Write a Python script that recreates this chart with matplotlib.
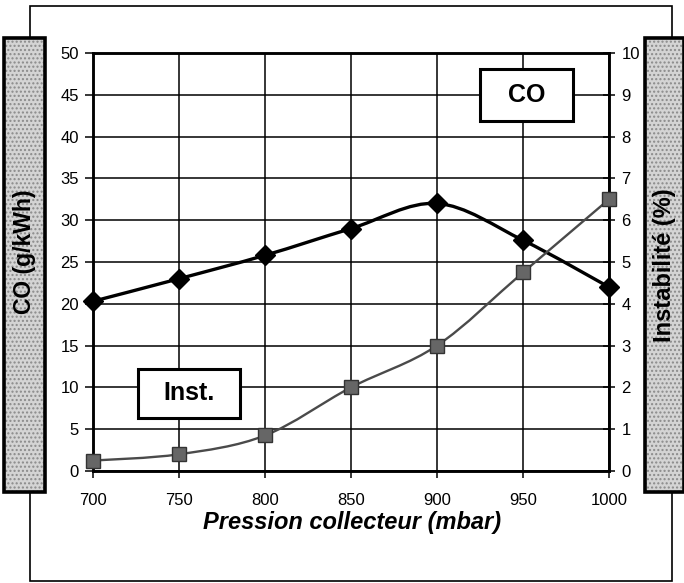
import matplotlib
matplotlib.use("Agg")
import matplotlib.pyplot as plt
from matplotlib.patches import Rectangle, PathPatch
from matplotlib.path import Path
import numpy as np

plt.rcParams['font.family'] = ['Liberation Sans', 'DejaVu Sans']

pression = [700, 750, 800, 850, 900, 950, 1000]
co_values = [20.3, 23.0, 25.8, 29.0, 32.0, 27.6, 22.0]
inst_values = [0.25, 0.4, 0.85, 2.0, 3.0, 4.75, 6.5]
x_ticks = [700, 750, 800, 850, 900, 950, 1000]
y_left_ticks = [0, 5, 10, 15, 20, 25, 30, 35, 40, 45, 50]
y_right_ticks = [0, 1, 2, 3, 4, 5, 6, 7, 8, 9, 10]


def smooth_path(xs, ys):
    pts = np.column_stack([xs, ys]).astype(float)
    n = len(pts)
    verts = [pts[0]]
    codes = [Path.MOVETO]
    for i in range(n - 1):
        p0 = pts[i - 1] if i > 0 else pts[i]
        p1 = pts[i]
        p2 = pts[i + 1]
        p3 = pts[i + 2] if i + 2 < n else pts[i + 1]
        c1 = p1 + (p2 - p0) / 6.0
        c2 = p2 - (p3 - p1) / 6.0
        verts += [c1, c2, p2]
        codes += [Path.CURVE4] * 3
    return Path(verts, codes)


W, H = 684, 583
fig = plt.figure(figsize=(W / 100, H / 100), dpi=100)

# outer frame
fig.add_artist(Rectangle((30 / W, 1 - 581 / H), (672 - 30) / W, (581 - 6) / H,
                         transform=fig.transFigure, fill=False, lw=1.2,
                         edgecolor='black', zorder=0))

# side panels
for (x0, x1) in [(4, 45), (645, 684)]:
    fig.add_artist(Rectangle((x0 / W, 1 - 492 / H), (x1 - x0) / W, (492 - 38) / H,
                             transform=fig.transFigure, facecolor='#d4d4d4',
                             hatch='....', edgecolor='#8a8a8a', lw=0, zorder=1))
    fig.add_artist(Rectangle((x0 / W, 1 - 492 / H), (x1 - x0) / W, (492 - 38) / H,
                             transform=fig.transFigure, fill=False,
                             edgecolor='black', lw=2.6, zorder=2))

fig.text(25 / W, 1 - 252 / H, 'CO (g/kWh)', rotation=90, ha='center', va='center',
         fontsize=16.5, fontweight='bold', zorder=3)
fig.text(664 / W, 1 - 265 / H, 'Instabilité (%)', rotation=90, ha='center', va='center',
         fontsize=17, fontweight='bold', zorder=3)

ax = fig.add_axes([93 / W, 1 - 471 / H, (609 - 93) / W, (471 - 53) / H])
ax2 = ax.twinx()

ax.set_xlim(700, 1000)
ax.set_ylim(0, 50)
ax2.set_ylim(0, 10)
ax.set_xticks(x_ticks)
ax.set_yticks(y_left_ticks)
ax2.set_yticks(y_right_ticks)
ax.grid(True, color='black', lw=1.1)
ax.set_axisbelow(True)

for a in (ax, ax2):
    for s in a.spines.values():
        s.set_linewidth(1.8)
        s.set_color('black')

ax.tick_params(axis='y', direction='out', length=6, width=1.1, labelsize=12, pad=4)
ax.tick_params(axis='x', direction='out', length=5, width=1.1, labelsize=12, pad=11)
ax2.tick_params(axis='y', direction='inout', length=8, width=1.1, labelsize=12, pad=5)

# CO curve (smoothed, as in the original spreadsheet chart)
ax.add_patch(PathPatch(smooth_path(pression, co_values), fill=False,
                       edgecolor='black', lw=2.4, zorder=3))
ax.plot(pression, co_values, linestyle='none', marker='D', markersize=10.5,
        color='black', zorder=4, clip_on=False)

# Instability curve
ax2.add_patch(PathPatch(smooth_path(pression, inst_values), fill=False,
                        edgecolor='#4a4a4a', lw=1.7, zorder=3))
ax2.plot(pression, inst_values, linestyle='none', marker='s', markersize=10,
         markerfacecolor='#666666', markeredgecolor='#333333', markeredgewidth=1.0,
         zorder=4, clip_on=False)

# label boxes
ax2.add_patch(Rectangle((925, 8.38), 54, 1.24, facecolor='white', edgecolor='black',
                        lw=2.2, zorder=5))
ax2.text(952, 9.0, 'CO', ha='center', va='center', fontsize=18,
         fontweight='bold', zorder=6)
ax2.add_patch(Rectangle((726, 1.27), 59.4, 1.18, facecolor='white', edgecolor='black',
                        lw=2.2, zorder=5))
ax2.text(755.7, 1.86, 'Inst.', ha='center', va='center', fontsize=18,
         fontweight='bold', zorder=6)

fig.text(352 / W, 1 - 523 / H, 'Pression collecteur (mbar)', ha='center', va='center',
         fontsize=17, fontweight='bold', fontstyle='italic')

fig.savefig('out.png', dpi=100)
